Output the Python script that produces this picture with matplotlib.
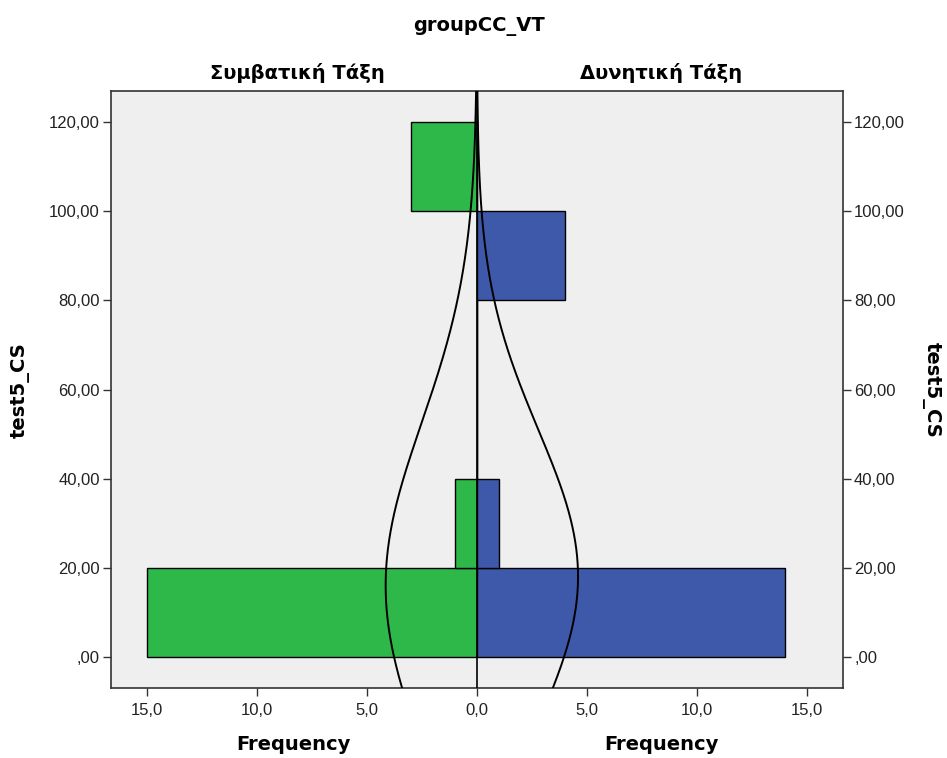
import numpy as np
import matplotlib
matplotlib.use("Agg")
import matplotlib.pyplot as plt

plt.rcParams['font.family'] = ['Liberation Sans', 'DejaVu Sans']

# Histogram bins of test5_CS (lower edges, width 20)
bin_starts = [0, 20, 40, 60, 80, 100]
bin_width = 20
group_names = ["Συμβατική Τάξη", "Δυνητική Τάξη"]
left_counts = [15, 1, 0, 0, 0, 3]    # Συμβατική Τάξη
right_counts = [14, 1, 0, 0, 4, 0]   # Δυνητική Τάξη

# Normal curve parameters per group (mean, std)
left_mean, left_sd = 16.0, 36.5
right_mean, right_sd = 18.0, 33.0

x_ticks = [-15, -10, -5, 0, 5, 10, 15]
y_ticks = [0, 20, 40, 60, 80, 100, 120]

green = "#2fb84a"
blue = "#3e58aa"
bg = "#efefef"
title_font = dict(family='DejaVu Sans', fontweight='bold', fontsize=14)

fig = plt.figure(figsize=(9.47, 7.58), dpi=100)
ax = fig.add_axes([111/947, 1 - 688/758, (843 - 111)/947, (688 - 91)/758])
ax.set_facecolor(bg)

ax.barh(bin_starts, [-c for c in left_counts], height=bin_width, align='edge',
        color=green, edgecolor='black', linewidth=1.0, zorder=2)
ax.barh(bin_starts, right_counts, height=bin_width, align='edge',
        color=blue, edgecolor='black', linewidth=1.0, zorder=2)

ylo, yhi = -7, 127
ys = np.linspace(ylo, yhi, 400)

def normal_curve(n, mean, sd):
    return n * bin_width / (sd * np.sqrt(2 * np.pi)) * np.exp(-0.5 * ((ys - mean) / sd) ** 2)

ax.plot(-normal_curve(sum(left_counts), left_mean, left_sd), ys, color='black', lw=1.4, zorder=3)
ax.plot(normal_curve(sum(right_counts), right_mean, right_sd), ys, color='black', lw=1.4, zorder=3)
ax.axvline(0, color='black', lw=1.2, zorder=4)

ax.set_xlim(-16.64, 16.64)
ax.set_ylim(ylo, yhi)

def ylab(v):
    s = f"{v:.2f}".replace('.', ',')
    return s[1:] if v == 0 else s

ax.set_xticks(x_ticks)
ax.set_xticklabels([f"{abs(v):.1f}".replace('.', ',') for v in x_ticks])
ax.set_yticks(y_ticks)
ax.set_yticklabels([ylab(v) for v in y_ticks])
ax.tick_params(axis='both', labelsize=12, length=6, width=1, color='#333333', labelcolor='#222222')
ax.tick_params(axis='x', pad=5)
ax.tick_params(axis='y', right=True, labelright=True, pad=2)
for s in ax.spines.values():
    s.set_linewidth(1.2)
    s.set_color('#333333')

# Titles and axis labels
fig.text(479/947, 1 - 27/758, "groupCC_VT", ha='center', va='center', **title_font)
fig.text(297/947, 1 - 73/758, group_names[0], ha='center', va='center', **title_font)
fig.text(661/947, 1 - 73/758, group_names[1], ha='center', va='center', **title_font)
fig.text(293/947, 1 - 745/758, "Frequency", ha='center', va='center', **title_font)
fig.text(661/947, 1 - 745/758, "Frequency", ha='center', va='center', **title_font)
fig.text(20/947, 1 - 390/758, "test5_CS", ha='center', va='center', rotation=90, **title_font)
fig.text(931/947, 1 - 390/758, "test5_CS", ha='center', va='center', rotation=270, **title_font)

fig.savefig("out.png", dpi=100)
